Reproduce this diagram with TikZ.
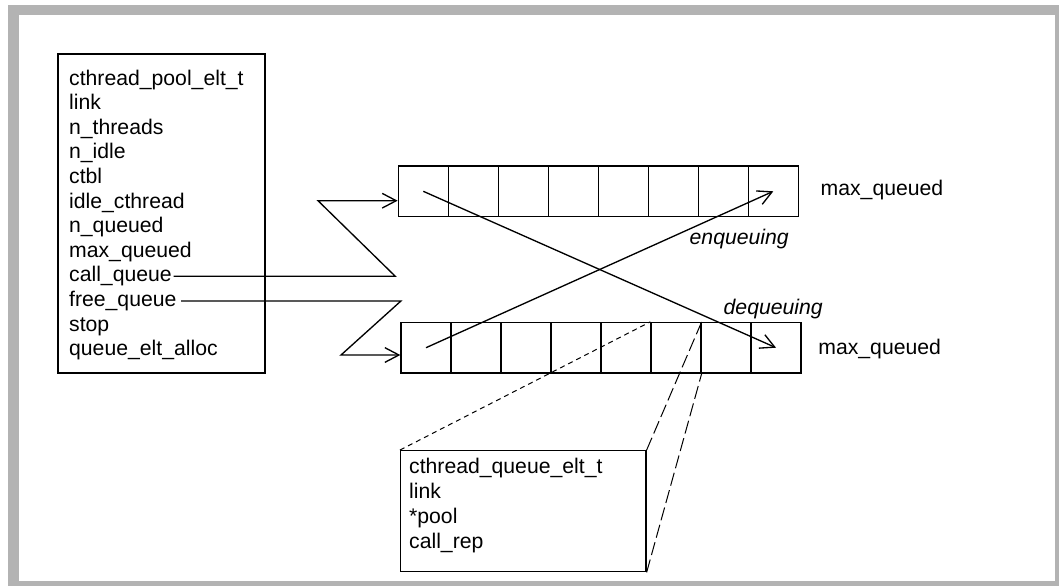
\documentclass[tikz,border=0pt]{standalone}
\usepackage{fontspec}
\setmainfont{Liberation Sans}
\usepackage{tikz}
\usetikzlibrary{arrows.meta,positioning}
\definecolor{framec}{HTML}{B3B3B3}

\begin{document}
\begin{tikzpicture}[x=0.75pt, y=-0.75pt, line width=1pt,
  fieldt/.style={anchor=base west, inner sep=0pt, font=\fontsize{15.9}{19}\selectfont},
  cellb/.style={draw, minimum width=37.5pt, minimum height=37.8pt, inner sep=0pt},
  ptr/.style={-{Straight Barb[length=10.5pt, width=11pt]}},
  projs/.style={line width=0.75pt, dash pattern=on 3.75pt off 3pt},
  projl/.style={line width=0.75pt, dash pattern=on 10pt off 3.5pt}]
  \useasboundingbox (0,0) rectangle (1059,586);
  \fill[framec] (8,5) rectangle (1059,586);
  \fill[white] (19,15) rectangle (1055,581);
  % pool structure
  \node[draw, minimum width=155.25pt, minimum height=239.25pt, inner sep=0pt] (pool) at (161.5,213.5) {};
  \node[fieldt] (pname) at (68.5,85.0) {cthread\_pool\_elt\_t};
  \node[fieldt] (plink) at (68.5,109.6) {link};
  \node[fieldt] (nthr) at (68.5,134.2) {n\_threads};
  \node[fieldt] (nidle) at (68.5,158.8) {n\_idle};
  \node[fieldt] (ctbl) at (68.5,183.4) {ctbl};
  \node[fieldt] (idlec) at (68.5,208.0) {idle\_cthread};
  \node[fieldt] (nq) at (68.5,232.6) {n\_queued};
  \node[fieldt] (maxq) at (68.5,257.2) {max\_queued};
  \node[fieldt] (callq) at (68.5,281.8) {call\_queue};
  \node[fieldt] (freeq) at (68.5,306.4) {free\_queue};
  \node[fieldt] (stop) at (68.5,331.0) {stop};
  \node[fieldt] (qalloc) at (68.5,355.6) {queue\_elt\_alloc};
  % call queue
  \node[cellb] (up0) at (423.3,191.3) {};
  \node[cellb] (up1) at (473.3,191.3) {};
  \node[cellb] (up2) at (523.3,191.3) {};
  \node[cellb] (up3) at (573.3,191.3) {};
  \node[cellb] (up4) at (623.3,191.3) {};
  \node[cellb] (up5) at (673.3,191.3) {};
  \node[cellb] (up6) at (723.3,191.3) {};
  \node[cellb] (up7) at (773.3,191.3) {};
  \node[fieldt] (maxup) at (820,195.5) {max\_queued};
  % free queue
  \node[cellb] (lo0) at (426,347.7) {};
  \node[cellb] (lo1) at (476,347.7) {};
  \node[cellb] (lo2) at (526,347.7) {};
  \node[cellb] (lo3) at (576,347.7) {};
  \node[cellb] (lo4) at (626,347.7) {};
  \node[cellb] (lo5) at (676,347.7) {};
  \node[cellb] (lo6) at (726,347.7) {};
  \node[cellb] (lo7) at (776,347.7) {};
  \node[fieldt] (maxlo) at (817.7,354.0) {max\_queued};
  % queue element
  \node[draw, minimum width=184pt, minimum height=90.75pt, inner sep=0pt] (qelt) at (523.3,511.2) {};
  \node[fieldt] (ename) at (408.5,473.3) {cthread\_queue\_elt\_t};
  \node[fieldt] (elink) at (408.5,498.3) {link};
  \node[fieldt] (epool) at (408.5,523.3) {*pool};
  \node[fieldt] (erep) at (408.5,548.3) {call\_rep};
  % pointers
  \coordinate (cqturn) at (394,277);
  \coordinate (cqback) at (318,200.7);
  \draw[ptr] ([xshift=1pt]callq.east) -- ([xshift=1pt]callq.east -| cqturn) -- (cqback) -- (cqback -| up0.west);
  \coordinate (fqturn) at (397,301);
  \coordinate (fqback) at (341,355);
  \draw[ptr] ([xshift=3pt]freeq.east) -- ([xshift=3pt]freeq.east -| fqturn) -- (fqback) -- (fqback -| lo0.west);
  \draw[ptr] (up0.center) -- (lo7.center);
  \draw[ptr] (lo0.center) -- (up7.center);
  \node[fieldt, font=\fontsize{15.9}{19}\selectfont\itshape] (enq) at (689,244) {enqueuing};
  \node[fieldt, font=\fontsize{15.9}{19}\selectfont\itshape] (deq) at (723,314) {dequeuing};
  % projection of one element
  \draw[projs] (qelt.north west) -- (lo5.north west);
  \draw[projl] (qelt.north east) -- (lo5.north east);
  \draw[projl] (qelt.south east) -- (lo5.south east);
\end{tikzpicture}
\end{document}
